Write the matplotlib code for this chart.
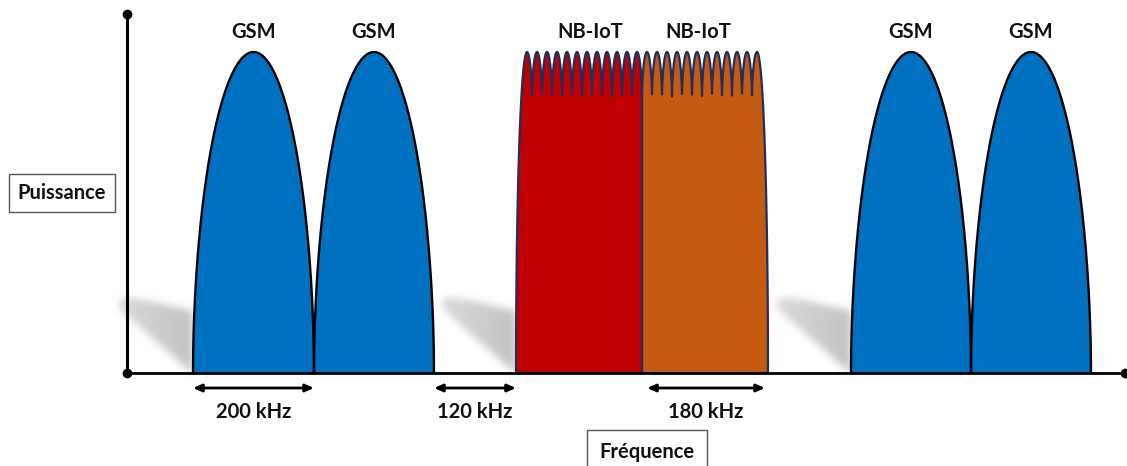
import numpy as np
import matplotlib
matplotlib.use("Agg")
import matplotlib.pyplot as plt
from matplotlib.path import Path

# ---------------- data (arbitrary frequency units / power units) ----------------
gsm_labels = ["GSM", "GSM", "GSM", "GSM"]
gsm_left = [193, 314, 851, 971]
gsm_right = [314, 434, 971, 1091]
gsm_power = [321, 321, 321, 321]

nb_labels = ["NB-IoT", "NB-IoT"]
nb_label_x = [590, 698]
nb_edges = [516, 642, 768]
nb_colors = ["#C00000", "#C55A11"]
nb_subcarriers = 12
nb_peak_power = 321
nb_trough_power = 275

shadow_left_edges = [193, 516, 851]

span_labels = ["200 kHz", "120 kHz", "180 kHz"]
span_start = [193, 434, 647]
span_end = [314, 516, 765]

axis_x0 = 127
axis_x1 = 1125
axis_ytop = 359

GSM_BLUE = "#0070C0"
NAVY = "#1F2F5F"

FONT = ["Lato", "DejaVu Sans"]
FS = 14.5

fig = plt.figure(figsize=(11.27, 4.66), dpi=100)
ax = fig.add_axes([0, 0, 1, 1])
ax.set_xlim(0, 1127)
ax.set_ylim(-93, 373)
ax.axis("off")

# ---------------- shadows (blurred raster) ----------------
xs = np.arange(0, 1127) + 0.5
ys = np.arange(-93, 373) + 0.5
XX, YY = np.meshgrid(xs, ys)
pts = np.column_stack([XX.ravel(), YY.ravel()])
mask = np.zeros(XX.shape)
shape_dx = [0, 0, -43, -68, -76, -68, -3]
shape_dy = [0, 62, 72, 76, 69, 59, 2]
for L in shadow_left_edges:
    poly = Path(np.column_stack([np.array(shape_dx) + L, shape_dy]))
    inside = poly.contains_points(pts).reshape(XX.shape).astype(float)
    w = 0.6 + 0.4 * np.clip((XX - (L - 76)) / 76.0, 0, 1)
    mask = np.maximum(mask, inside * w)
sig = 4.0
k = np.arange(-12, 13)
kern = np.exp(-k**2 / (2 * sig**2))
kern /= kern.sum()
mask = np.apply_along_axis(lambda r: np.convolve(r, kern, mode="same"), 1, mask)
mask = np.apply_along_axis(lambda c: np.convolve(c, kern, mode="same"), 0, mask)
rgba = np.zeros(mask.shape + (4,))
rgba[..., :3] = 0.68
rgba[..., 3] = np.clip(mask * 0.75, 0, 1)
ax.imshow(rgba, extent=[0, 1127, -93, 373], origin="lower",
          interpolation="bilinear", zorder=1, aspect="auto")

# ---------------- GSM carriers ----------------
for L, R, P, lab in zip(gsm_left, gsm_right, gsm_power, gsm_labels):
    x = np.linspace(L, R, 600)
    t = (x - (L + R) / 2) / ((R - L) / 2)
    y = P * np.clip(1 - t ** 2, 0, 1) ** 0.53
    ax.fill_between(x, 0, y, color=GSM_BLUE, zorder=3, lw=0)
    ax.plot(x, y, color="black", lw=1.7, zorder=4, solid_capstyle="round")
    ax.text((L + R) / 2, P + 20, lab, ha="center", va="center",
            fontsize=FS, fontweight="bold", family=FONT, color="#111111", zorder=6)

# ---------------- NB-IoT carriers ----------------
for i in range(2):
    L, R = nb_edges[i], nb_edges[i + 1]
    s = (R - L) / (nb_subcarriers + 0.6)
    H, T = nb_peak_power, nb_trough_power
    x = np.linspace(L, R, 2000)
    y = np.zeros_like(x)
    if i == 0:
        xp = L + 1.1 * s
        outer = x <= xp
        y[outer] = H * np.sqrt(np.clip(1 - ((xp - x[outer]) / (xp - L)) ** 2, 0, 1))
    else:
        xp = R - 1.1 * s
        outer = x >= xp
        y[outer] = H * np.sqrt(np.clip(1 - ((x[outer] - xp) / (R - xp)) ** 2, 0, 1))
    sc = ~outer
    y[sc] = T + (H - T) * np.abs(np.cos(np.pi * (x[sc] - xp) / s)) ** 0.5
    px = np.concatenate([[L], x, [R]])
    py = np.concatenate([[0], y, [0]])
    ax.fill(px, py, facecolor=nb_colors[i], edgecolor=NAVY, lw=1.6, zorder=3,
            joinstyle="round")
    ax.text(nb_label_x[i], H + 20, nb_labels[i],
            ha="center", va="center", fontsize=FS, fontweight="bold",
            family=FONT, color="#111111", zorder=6)

# ---------------- axes ----------------
ax.plot([axis_x0, axis_x1], [0, 0], color="black", lw=2.0, zorder=5,
        solid_capstyle="butt")
ax.plot([axis_x0, axis_x0], [0, axis_ytop], color="black", lw=2.2, zorder=5)
ax.plot([axis_x0, axis_x1, axis_x0], [0, 0, axis_ytop], "o", color="black",
        ms=6, zorder=6)

# ---------------- span arrows ----------------
for a, b, lab in zip(span_start, span_end, span_labels):
    ax.annotate("", xy=(a, -15), xytext=(b, -15),
                arrowprops=dict(arrowstyle="<|-|>,head_length=0.5,head_width=0.22",
                                lw=2.0, color="black", shrinkA=0, shrinkB=0),
                zorder=6)
    ax.text((a + b) / 2, -39, lab, ha="center", va="center", fontsize=FS,
            fontweight="bold", family=FONT, color="#111111")

# ---------------- axis titles ----------------
ax.text(62, 180, "Puissance", ha="center", va="center", fontsize=FS,
        fontweight="bold", family=FONT, color="#111111", zorder=6,
        bbox=dict(boxstyle="square,pad=0.45", facecolor="white",
                  edgecolor="#555555", lw=1.0))
ax.text(647, -79, "Fréquence", ha="center", va="center", fontsize=FS,
        fontweight="bold", family=FONT, color="#111111", zorder=6,
        bbox=dict(boxstyle="square,pad=0.6", facecolor="white",
                  edgecolor="#555555", lw=1.0))

fig.savefig("out.png", dpi=100)
